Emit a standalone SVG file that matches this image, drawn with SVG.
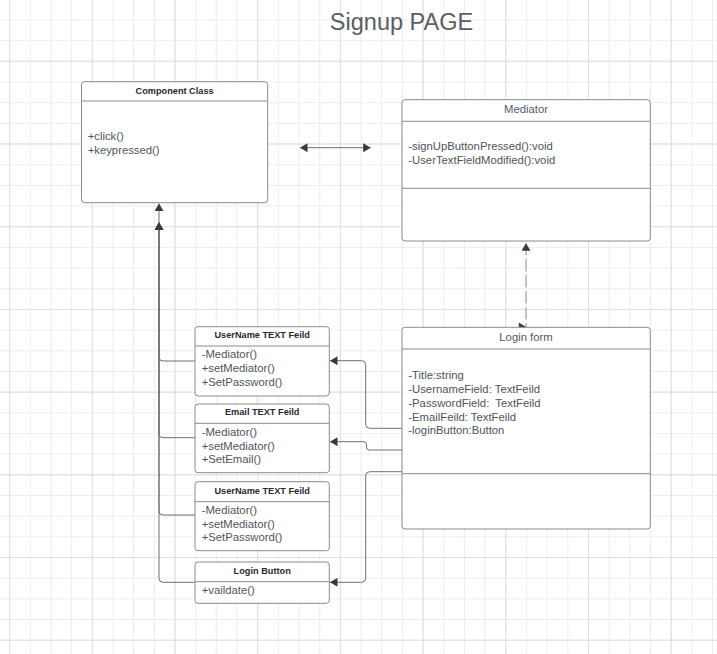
<svg xmlns="http://www.w3.org/2000/svg" width="717" height="654" viewBox="0 0 717 654">
  <defs>
    <!-- background grid: light minor lines, slightly darker every fourth line -->
    <pattern id="gridMinor" x="9.1" y="-1.2" width="20.675" height="20.675" patternUnits="userSpaceOnUse">
      <rect x="0" y="0" width="1" height="20.675" fill="#ededed"/>
      <rect x="0" y="0" width="20.675" height="1" fill="#ededed"/>
    </pattern>
    <pattern id="gridMajor" x="91.8" y="60.8" width="82.7" height="82.7" patternUnits="userSpaceOnUse">
      <rect x="0" y="0" width="1" height="82.7" fill="#dfdfdf"/>
      <rect x="0" y="0" width="82.7" height="1" fill="#dfdfdf"/>
    </pattern>
    <marker id="arrow" viewBox="0 0 10 10" refX="10" refY="5" markerWidth="7.5" markerHeight="9" markerUnits="userSpaceOnUse" orient="auto-start-reverse" preserveAspectRatio="none">
      <path d="M0,0 L10,5 L0,10 z" fill="#333a44"/>
    </marker>
    <style>
      .box { fill: #ffffff; stroke: #8a8a8a; stroke-width: 1; }
      .sep { stroke: #8a8a8a; stroke-width: 1; fill: none; }
      .hdr { font-family: "Liberation Sans", Arial, sans-serif; font-size: 9.2px; font-weight: bold; fill: #262a30; text-anchor: middle; }
      .ttl { font-family: "Liberation Sans", Arial, sans-serif; font-size: 11.3px; fill: #555a60; text-anchor: middle; }
      .txt { font-family: "Liberation Sans", Arial, sans-serif; font-size: 11.3px; fill: #4f545a; }
      .link { fill: none; stroke: #6a6e74; stroke-width: 1; }
      .dash { fill: none; stroke: #a8a8a8; stroke-width: 1.3; stroke-dasharray: 12 4; }
      .head { fill: #333a44; }
    </style>
  </defs>

  <rect width="717" height="654" fill="#ffffff"/>
  <rect width="717" height="654" fill="url(#gridMinor)"/>
  <rect width="717" height="654" fill="url(#gridMajor)"/>

  <text x="401.5" y="30" font-family="'Liberation Sans', Arial, sans-serif" font-size="23.5" fill="#5a5e64" text-anchor="middle">Signup PAGE</text>

  <g id="connectors">
    <!-- children to Component Class -->
    <path class="link" d="M195,361 H163 Q159,361 159,357 V203.5" marker-end="url(#arrow)"/>
    <path class="link" d="M195,437.7 H163 Q159,437.7 159,433.7 V222.5" marker-end="url(#arrow)"/>
    <path class="link" d="M195,515 H163 Q159,515 159,511 V222.5" marker-end="url(#arrow)"/>
    <path class="link" d="M195,582.3 H163 Q159,582.3 159,578.3 V222.5" marker-end="url(#arrow)"/>
    <!-- Login form to its fields -->
    <path class="link" d="M402,428.3 H369.7 Q365.7,428.3 365.7,424.3 V364.7 Q365.7,360.7 361.7,360.7 H330" marker-end="url(#arrow)"/>
    <path class="link" d="M402,450 H369.5 Q366.5,450 366.5,447 V444.7 Q366.5,441.7 363.5,441.7 H330" marker-end="url(#arrow)"/>
    <path class="link" d="M402,471.7 H369.7 Q365.7,471.7 365.7,475.7 V578.3 Q365.7,582.3 361.7,582.3 H330" marker-end="url(#arrow)"/>
    <!-- free double-headed link -->
    <path class="link" d="M300,147.7 H370.7" marker-start="url(#arrow)" marker-end="url(#arrow)"/>
    <!-- Mediator to Login form: arrow up at the Mediator, sideways head at the form -->
    <path class="dash" d="M526,243.3 V327" marker-start="url(#arrow)"/>
    <polygon class="head" points="518.8,322.6 526.6,327.2 518.8,331.6"/>
  </g>

  <g id="component-class">
    <rect class="box" x="81.5" y="81.7" width="186.2" height="121" rx="3"/>
    <line class="sep" x1="81.5" y1="101" x2="267.7" y2="101"/>
    <text class="hdr" x="174.6" y="93.5">Component Class</text>
    <text class="txt" x="87.7" y="140">+click()</text>
    <text class="txt" x="87.7" y="154">+keypressed()</text>
  </g>

  <g id="mediator">
    <rect class="box" x="402" y="99.7" width="248.3" height="141.3" rx="3"/>
    <line class="sep" x1="402" y1="121.3" x2="650.3" y2="121.3"/>
    <line class="sep" x1="402" y1="188.3" x2="650.3" y2="188.3"/>
    <text class="ttl" x="526" y="113">Mediator</text>
    <text class="txt" x="408.3" y="150">-signUpButtonPressed():void</text>
    <text class="txt" x="408.3" y="163.5">-UserTextFieldModified():void</text>
  </g>

  <g id="login-form">
    <rect class="box" x="402" y="327.3" width="248.3" height="201.7" rx="3"/>
    <line class="sep" x1="402" y1="349" x2="650.3" y2="349"/>
    <line class="sep" x1="402" y1="473.7" x2="650.3" y2="473.7"/>
    <text class="ttl" x="526" y="341">Login form</text>
    <text class="txt" x="408.3" y="379">-Title:string</text>
    <text class="txt" x="408.3" y="393">-UsernameField: TextFeild</text>
    <text class="txt" x="408.3" y="406.7" xml:space="preserve">-PasswordField:  TextFeild</text>
    <text class="txt" x="408.3" y="420.7">-EmailFeild: TextFeild</text>
    <text class="txt" x="408.3" y="434.3">-loginButton:Button</text>
  </g>

  <g id="username-field">
    <rect class="box" x="195" y="326.7" width="134.3" height="69.3" rx="3"/>
    <line class="sep" x1="195" y1="346" x2="329.3" y2="346"/>
    <text class="hdr" x="262.2" y="338.3">UserName TEXT Feild</text>
    <text class="txt" x="201.7" y="358.3">-Mediator()</text>
    <text class="txt" x="201.7" y="372.3">+setMediator()</text>
    <text class="txt" x="201.7" y="386.3">+SetPassword()</text>
  </g>

  <g id="email-field">
    <rect class="box" x="195" y="404" width="134.3" height="68.7" rx="3"/>
    <line class="sep" x1="195" y1="423.3" x2="329.3" y2="423.3"/>
    <text class="hdr" x="262.2" y="415">Email TEXT Feild</text>
    <text class="txt" x="201.7" y="435.7">-Mediator()</text>
    <text class="txt" x="201.7" y="449.7">+setMediator()</text>
    <text class="txt" x="201.7" y="463.3">+SetEmail()</text>
  </g>

  <g id="password-field">
    <rect class="box" x="195" y="481.7" width="134.3" height="69" rx="3"/>
    <line class="sep" x1="195" y1="501.7" x2="329.3" y2="501.7"/>
    <text class="hdr" x="262.2" y="494">UserName TEXT Feild</text>
    <text class="txt" x="201.7" y="514.3">-Mediator()</text>
    <text class="txt" x="201.7" y="527.8">+setMediator()</text>
    <text class="txt" x="201.7" y="541.3">+SetPassword()</text>
  </g>

  <g id="login-button">
    <rect class="box" x="195" y="562" width="134.3" height="41.3" rx="3"/>
    <line class="sep" x1="195" y1="581.7" x2="329.3" y2="581.7"/>
    <text class="hdr" x="262.2" y="573.6">Login Button</text>
    <text class="txt" x="201.7" y="594.3">+vaildate()</text>
  </g>
</svg>
